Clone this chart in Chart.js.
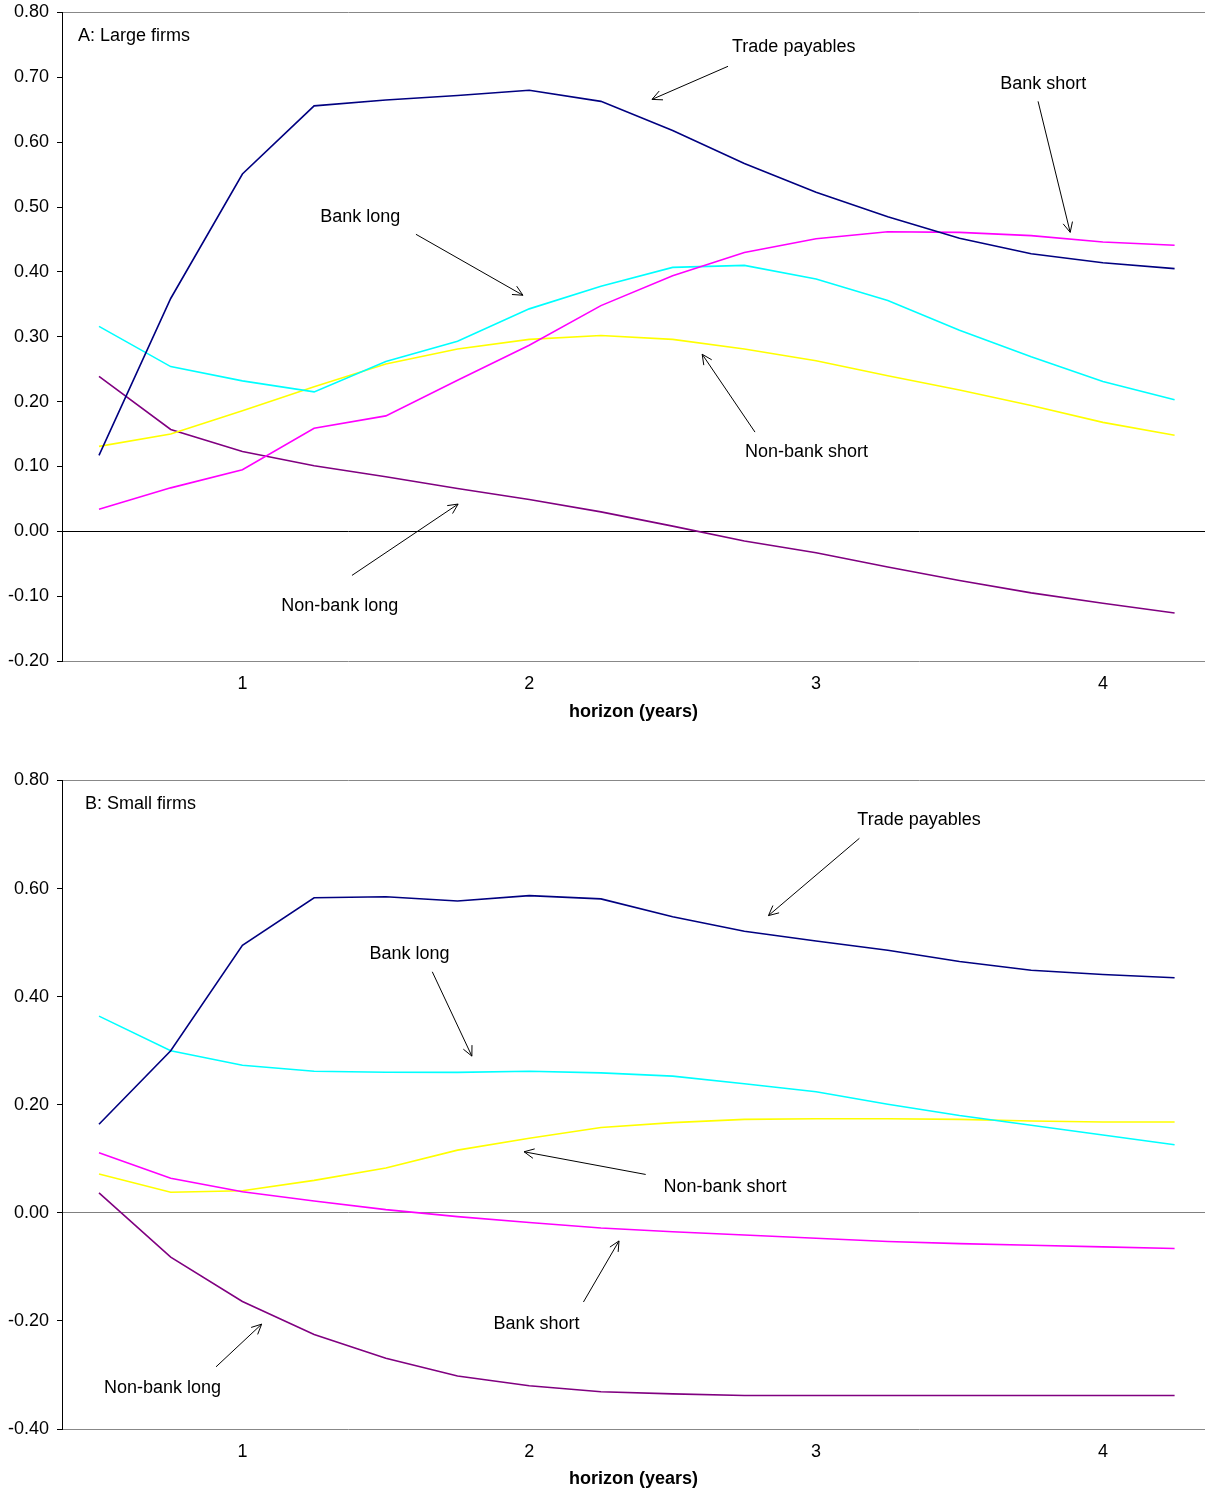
<!DOCTYPE html>
<html>
<head>
<meta charset="utf-8">
<title>Horizon responses: large and small firms</title>
<script src="https://cdn.jsdelivr.net/npm/chart.js@4/dist/chart.umd.min.js"></script>
<style>
  body{ margin:0; background:#fff; }
  canvas{ display:block; }
</style>
</head>
<body>
<canvas id="largeChart" width="1205" height="768"></canvas>
<canvas id="smallChart" width="1205" height="726"></canvas>
<script>
// ---------- DATA ----------
const horizon = [0.5, 0.75, 1, 1.25, 1.5, 1.75, 2, 2.25, 2.5, 2.75, 3, 3.25, 3.5, 3.75, 4, 4.25];
const xTickValues = [1, 2, 3, 4];
const seriesNames = ["Trade payables", "Bank short", "Bank long", "Non-bank short", "Non-bank long"];

// A: Large firms
const largeTrade        = [0.117, 0.359, 0.551, 0.656, 0.665, 0.672, 0.680, 0.663, 0.618, 0.567, 0.523, 0.485, 0.452, 0.428, 0.414, 0.405];
const largeBankShort    = [0.034, 0.067, 0.095, 0.159, 0.178, 0.233, 0.287, 0.348, 0.394, 0.430, 0.451, 0.462, 0.461, 0.456, 0.446, 0.441];
const largeBankLong     = [0.316, 0.254, 0.232, 0.215, 0.262, 0.293, 0.343, 0.378, 0.407, 0.410, 0.389, 0.356, 0.310, 0.269, 0.231, 0.203];
const largeNonBankShort = [0.131, 0.150, 0.186, 0.223, 0.258, 0.281, 0.296, 0.302, 0.296, 0.281, 0.263, 0.240, 0.218, 0.194, 0.168, 0.148];
const largeNonBankLong  = [0.239, 0.157, 0.123, 0.101, 0.084, 0.066, 0.049, 0.030, 0.008, -0.015, -0.033, -0.055, -0.076, -0.095, -0.111, -0.126];
const largeYTicks = { min: -0.2, max: 0.8, step: 0.1 };

// B: Small firms
const smallTrade        = [0.164, 0.300, 0.495, 0.583, 0.585, 0.577, 0.587, 0.581, 0.548, 0.521, 0.503, 0.486, 0.465, 0.449, 0.441, 0.435];
const smallBankShort    = [0.111, 0.064, 0.039, 0.022, 0.006, -0.007, -0.018, -0.028, -0.035, -0.041, -0.047, -0.053, -0.057, -0.060, -0.063, -0.066];
const smallBankLong     = [0.364, 0.300, 0.273, 0.262, 0.260, 0.260, 0.262, 0.259, 0.253, 0.239, 0.224, 0.201, 0.180, 0.162, 0.144, 0.126];
const smallNonBankShort = [0.072, 0.038, 0.041, 0.060, 0.083, 0.116, 0.138, 0.158, 0.167, 0.173, 0.174, 0.174, 0.173, 0.170, 0.168, 0.168];
const smallNonBankLong  = [0.037, -0.082, -0.164, -0.225, -0.269, -0.302, -0.320, -0.331, -0.335, -0.338, -0.338, -0.338, -0.338, -0.338, -0.338, -0.338];
const smallYTicks = { min: -0.4, max: 0.8, step: 0.2 };

// ---------- STYLE ----------
const seriesColors = ["#000080", "#FF00FF", "#00FFFF", "#FFFF00", "#800080"];
const FONT = "'Liberation Sans', Arial, sans-serif";
const X_MIN = 0.371, X_MAX = 4.356;   // category-style padding either side

// annotations in data units: text left/middle at `at`, arrow from -> to
const largeNotes = [
  { text: "A: Large firms", at: [0.427, 0.763] },
  { text: "Trade payables", at: [2.707, 0.746], from: [2.693, 0.717], to: [2.428, 0.666] },
  { text: "Bank short",     at: [3.642, 0.689], from: [3.774, 0.663], to: [3.886, 0.461] },
  { text: "Bank long",      at: [1.271, 0.484], from: [1.605, 0.458], to: [1.978, 0.364] },
  { text: "Non-bank short", at: [2.752, 0.123], from: [2.787, 0.153], to: [2.603, 0.273] },
  { text: "Non-bank long",  at: [1.135, -0.116], from: [1.382, -0.068], to: [1.752, 0.042] }
];
const smallNotes = [
  { text: "B: Small firms", at: [0.451, 0.757] },
  { text: "Trade payables", at: [3.144, 0.726], from: [3.151, 0.693], to: [2.834, 0.550] },
  { text: "Bank long",      at: [1.443, 0.478], from: [1.662, 0.446], to: [1.800, 0.290] },
  { text: "Non-bank short", at: [2.468, 0.048], from: [2.406, 0.071], to: [1.982, 0.113] },
  { text: "Bank short",     at: [1.875, -0.206], from: [2.189, -0.165], to: [2.313, -0.052] },
  { text: "Non-bank long",  at: [0.517, -0.324], from: [0.908, -0.285], to: [1.067, -0.206] }
];

// ----- arrow helper -----
function drawArrow(ctx, x1, y1, x2, y2){
  const ang = Math.atan2(y2 - y1, x2 - x1), len = 11, spread = 0.45;
  ctx.beginPath();
  ctx.moveTo(x1, y1); ctx.lineTo(x2, y2);
  ctx.moveTo(x2 - len*Math.cos(ang - spread), y2 - len*Math.sin(ang - spread));
  ctx.lineTo(x2, y2);
  ctx.lineTo(x2 - len*Math.cos(ang + spread), y2 - len*Math.sin(ang + spread));
  ctx.stroke();
}

function notesPlugin(items){
  return {
    id: "notes",
    afterDatasetsDraw(chart){
      const { ctx, scales: { x, y } } = chart;
      ctx.save();
      ctx.font = "18px " + FONT;
      ctx.fillStyle = "#000"; ctx.strokeStyle = "#000"; ctx.lineWidth = 1;
      ctx.textAlign = "left"; ctx.textBaseline = "middle";
      items.forEach(n => {
        ctx.fillText(n.text, x.getPixelForValue(n.at[0]), y.getPixelForValue(n.at[1]));
        if(n.from) drawArrow(ctx,
          x.getPixelForValue(n.from[0]), y.getPixelForValue(n.from[1]),
          x.getPixelForValue(n.to[0]), y.getPixelForValue(n.to[1]));
      });
      ctx.restore();
    }
  };
}

// ----- panel builder -----
function makePanel(canvasId, series, yTicks, zeroColor, notes, padTop, padBottom, xHeight){
  const datasets = series.map((vals, i) => ({
    label: seriesNames[i],
    data: horizon.map((h, j) => ({ x: h, y: vals[j] })),
    borderColor: seriesColors[i],
    borderWidth: 1.6,
    pointRadius: 0,
    tension: 0,
    fill: false
  }));
  return new Chart(document.getElementById(canvasId), {
    type: "line",
    data: { datasets },
    plugins: [notesPlugin(notes)],
    options: {
      responsive: false,
      animation: false,
      devicePixelRatio: 1,
      layout: { padding: { top: padTop, bottom: padBottom, left: 0, right: 0 } },
      plugins: { legend: { display: false }, tooltip: { enabled: false } },
      scales: {
        x: {
          type: "linear", min: X_MIN, max: X_MAX,
          afterBuildTicks: s => { s.ticks = xTickValues.map(v => ({ value: v })); },
          afterFit: s => { s.height = xHeight; },
          grid: { display: false, drawTicks: false },
          border: { display: false },
          ticks: { color: "#000", padding: 12, font: { family: FONT, size: 18 } },
          title: { display: true, text: "horizon (years)", color: "#000",
                   padding: { top: 4, bottom: 4 }, font: { family: FONT, size: 18, weight: "bold" } }
        },
        y: {
          min: yTicks.min, max: yTicks.max,
          afterFit: s => { s.width = 62; },
          // small lineHeight so the top label does not push the plot area down
          ticks: { stepSize: yTicks.step, color: "#000", padding: 8,
                   font: { family: FONT, size: 18, lineHeight: 0.5 },
                   callback: v => (Math.abs(v) < 1e-9 ? 0 : v).toFixed(2) },
          grid: {
            tickLength: 5, tickColor: "#000", lineWidth: 1,
            color: c => {
              const v = c.tick ? c.tick.value : NaN;
              if(Math.abs(v) < 1e-9) return zeroColor;
              if(Math.abs(v - yTicks.max) < 1e-9 || Math.abs(v - yTicks.min) < 1e-9) return "#888";
              return "rgba(0,0,0,0)";
            }
          },
          border: { display: true, color: "#000", width: 1 }
        }
      }
    }
  });
}

makePanel("largeChart",
  [largeTrade, largeBankShort, largeBankLong, largeNonBankShort, largeNonBankLong],
  largeYTicks, "#000", largeNotes, 12, 41, 66);
makePanel("smallChart",
  [smallTrade, smallBankShort, smallBankLong, smallNonBankShort, smallNonBankLong],
  smallYTicks, "#808080", smallNotes, 12, 0, 65);
</script>
</body>
</html>
